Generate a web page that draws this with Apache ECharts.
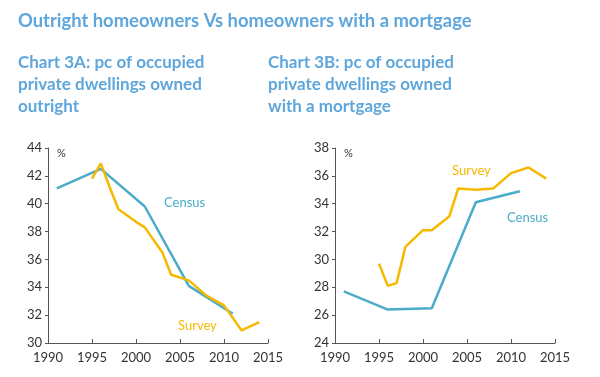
<!DOCTYPE html>
<html>
<head>
<meta charset="utf-8">
<script src="https://cdn.jsdelivr.net/npm/echarts@6/dist/echarts.min.js"></script>
<style>
  body { margin: 0; background: #fff; }
  #chart { width: 600px; height: 377px; }
</style>
</head>
<body>
<div id="chart"></div>
<script>
  // years
  var censusYears = [1991, 1996, 2001, 2006, 2011]
  var surveyYears = [1995, 1996, 1997, 1998, 2000, 2001, 2003, 2004, 2006, 2008, 2010, 2012, 2014]
  // chart 3A - owned outright
  var censusOutright = [41.1, 42.5, 39.8, 34.1, 32.1]
  var surveyOutright = [41.8, 42.9, 41.2, 39.6, 38.7, 38.3, 36.5, 34.9, 34.5, 33.4, 32.7, 30.9, 31.5]
  // chart 3B - owned with a mortgage
  var censusMortgage = [27.7, 26.4, 26.5, 34.1, 34.9]
  var surveyMortgage = [29.7, 28.1, 28.3, 30.9, 32.1, 32.1, 33.1, 35.1, 35.0, 35.1, 36.2, 36.6, 35.8]
  var xTicks = [1990, 1995, 2000, 2005, 2010, 2015]

  var blue = '#4aacc8'
  var gold = '#f7b900'
  var titleColor = '#5ea6db'
  var font = 'Lato'

  function pairs (xs, ys) {
    let out = []
    for (let i = 0; i < xs.length; i++) {
      out.push([xs[i], ys[i]])
    }
    return out
  }

  function xAxisOf (idx) {
    return {
      type: 'value',
      gridIndex: idx,
      min: xTicks[0],
      max: xTicks[xTicks.length - 1],
      interval: 5,
      axisLine: { lineStyle: { color: '#555', width: 1 } },
      axisTick: { inside: true, length: 4, lineStyle: { color: '#555' } },
      axisLabel: {
        color: '#333',
        fontSize: 13,
        fontFamily: font,
        margin: 8,
        formatter: function (v) { return String(v) }
      },
      splitLine: { show: false }
    }
  }

  function yAxisOf (idx, min, max) {
    return {
      type: 'value',
      gridIndex: idx,
      min: min,
      max: max,
      interval: 2,
      axisLine: { show: true, lineStyle: { color: '#555', width: 1 } },
      axisTick: { show: true, length: 3, lineStyle: { color: '#555' } },
      axisLabel: { color: '#333', fontSize: 13, fontFamily: font, margin: 6 },
      splitLine: { show: false }
    }
  }

  function lineOf (name, idx, data, color) {
    return {
      name: name,
      type: 'line',
      xAxisIndex: idx,
      yAxisIndex: idx,
      data: data,
      symbol: 'none',
      lineStyle: { color: color, width: 2.5 },
      animation: false
    }
  }

  function textOf (x, y, text, color, size, weight) {
    return {
      type: 'text',
      left: x,
      top: y,
      style: {
        text: text,
        fill: color,
        font: (weight || 'normal') + ' ' + size + 'px ' + font,
        lineHeight: 22
      }
    }
  }

  let myChart = echarts.init(document.getElementById('chart'))
  myChart.setOption({
    backgroundColor: '#fff',
    grid: [
      { left: 48, top: 148, width: 220, height: 195 },
      { left: 335, top: 148, width: 220, height: 195 }
    ],
    xAxis: [xAxisOf(0), xAxisOf(1)],
    yAxis: [yAxisOf(0, 30, 44), yAxisOf(1, 24, 38)],
    series: [
      lineOf('Census', 0, pairs(censusYears, censusOutright), blue),
      lineOf('Survey', 0, pairs(surveyYears, surveyOutright), gold),
      lineOf('Census', 1, pairs(censusYears, censusMortgage), blue),
      lineOf('Survey', 1, pairs(surveyYears, surveyMortgage), gold)
    ],
    graphic: [
      textOf(18, 10, 'Outright homeowners Vs homeowners with a mortgage', titleColor, 18.4, 'bold'),
      textOf(18, 52, 'Chart 3A: pc of occupied\nprivate dwellings owned\noutright', titleColor, 17, 'bold'),
      textOf(268, 52, 'Chart 3B: pc of occupied\nprivate dwellings owned\nwith a mortgage', titleColor, 17, 'bold'),
      textOf(57, 142, '%', '#333', 11),
      textOf(344, 142, '%', '#333', 11),
      textOf(164, 192, 'Census', blue, 13),
      textOf(178, 315, 'Survey', gold, 13),
      textOf(452, 160, 'Survey', gold, 13),
      textOf(507, 207, 'Census', blue, 13)
    ]
  })
</script>
</body>
</html>
